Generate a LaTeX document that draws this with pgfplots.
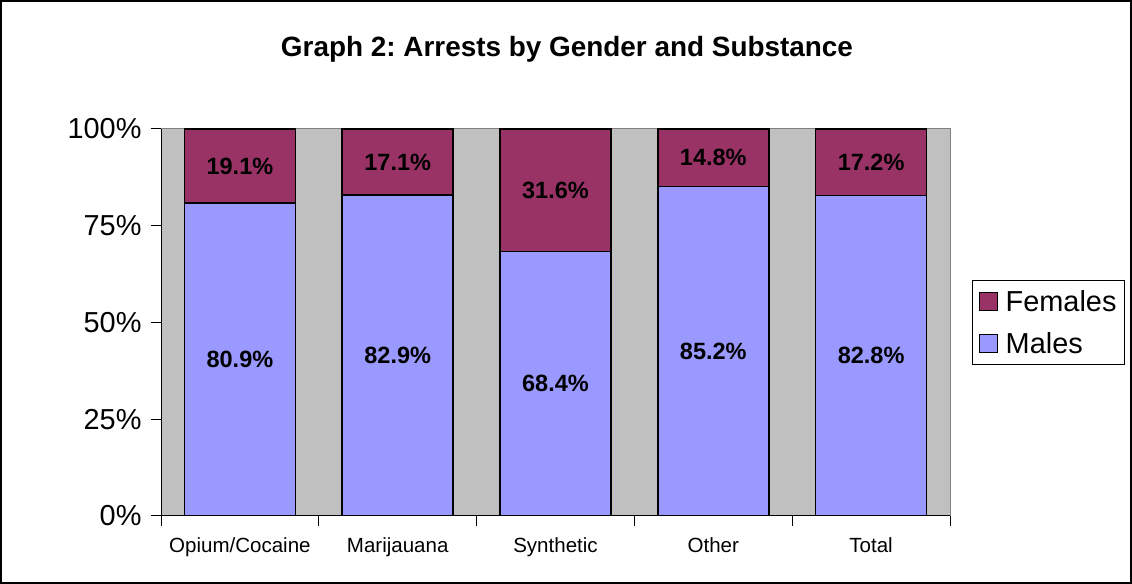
\documentclass[border=0pt]{standalone}
\usepackage{pgfplots}
\pgfplotsset{compat=1.18}
\usepackage{fontspec}
\setmainfont{Liberation Sans}
\definecolor{fem}{HTML}{993366}
\definecolor{mal}{HTML}{9999FF}
\definecolor{bg}{HTML}{C0C0C0}
\definecolor{frame}{HTML}{808080}

\pgfplotstableread{
x males females
0 80.9 19.1
1 82.9 17.1
2 68.4 31.6
3 85.2 14.8
4 82.8 17.2
}\datatable

\pgfplotstableread{
x y v
0 40.45 80.9
1 41.45 82.9
2 34.2 68.4
3 42.6 85.2
4 41.4 82.8
0 90.45 19.1
1 91.45 17.1
2 84.2 31.6
3 92.6 14.8
4 91.4 17.2
}\labeltable

\begin{document}
\frenchspacing
\begin{tikzpicture}[x=1bp,y=1bp]
\useasboundingbox (0,0) rectangle (1132,584);
\draw[line width=1.5bp] (1,1) rectangle (1131,583);
\node[font=\fontsize{28}{32}\selectfont\bfseries] at (567,535) {Graph 2: Arrests by Gender and Substance};
\begin{axis}[
  at={(161bp,68bp)}, anchor=south west,
  scale only axis, width=789bp, height=387bp,
  ybar stacked, bar width=0.703,
  xmin=-0.5, xmax=4.5, ymin=0, ymax=100,
  axis background/.style={fill=bg},
  axis line style={draw=frame, line width=1bp},
  ytick={0,25,50,75,100},
  yticklabel={\pgfmathprintnumber{\tick}\%},
  yticklabel style={font=\fontsize{29}{32}\selectfont, xshift=-6bp},
  ytick pos=left, xtick pos=bottom,
  tick align=outside, major tick length=10bp,
  tick style={black, line width=1bp},
  xtick={-0.5,0.5,1.5,2.5,3.5,4.5}, xticklabels={},
  extra x ticks={0,1,2,3,4},
  extra x tick labels={Opium/Cocaine,Marijauana,Synthetic,Other,Total},
  extra x tick style={major tick length=0pt, tick style={draw=none},
    ticklabel style={font=\fontsize{20.6}{24}\selectfont, yshift=-18bp}},
  /pgf/number format/assume math mode=true,
  legend style={at={(1,0.5)}, xshift=22bp, anchor=west,
    font=\fontsize{29}{32}\selectfont, draw=black, line width=1bp,
    inner xsep=6bp, inner ysep=8bp, row sep=16bp, column sep=6bp},
  legend cell align=left,
  reverse legend,
  legend image code/.code={\draw[#1, draw=black, line width=1.2bp] (0bp,-9bp) rectangle (18bp,9bp);},
]
\addplot[fill=mal, draw=black, line width=1.5bp] table[x=x, y=males] {\datatable};
\addlegendentry{Males}
\addplot[fill=fem, draw=black, line width=1.5bp] table[x=x, y=females] {\datatable};
\addlegendentry{Females}
\draw[black, line width=1bp] (rel axis cs:0,0) -- (rel axis cs:0,1);
\draw[black, line width=1bp] (rel axis cs:0,0) -- (rel axis cs:1,0);
\end{axis}
\begin{axis}[
  at={(161bp,68bp)}, anchor=south west,
  scale only axis, width=789bp, height=387bp,
  xmin=-0.5, xmax=4.5, ymin=0, ymax=100,
  hide axis,
  /pgf/number format/assume math mode=true,
]
\addplot[only marks, mark=none, point meta=explicit,
  nodes near coords={\pgfmathprintnumber[fixed,precision=1,fixed zerofill]{\pgfplotspointmeta}\%},
  nodes near coords style={anchor=center, font=\fontsize{23.6}{26}\selectfont\bfseries}]
  table[x=x, y=y, meta=v] {\labeltable};
\end{axis}
\end{tikzpicture}
\end{document}
